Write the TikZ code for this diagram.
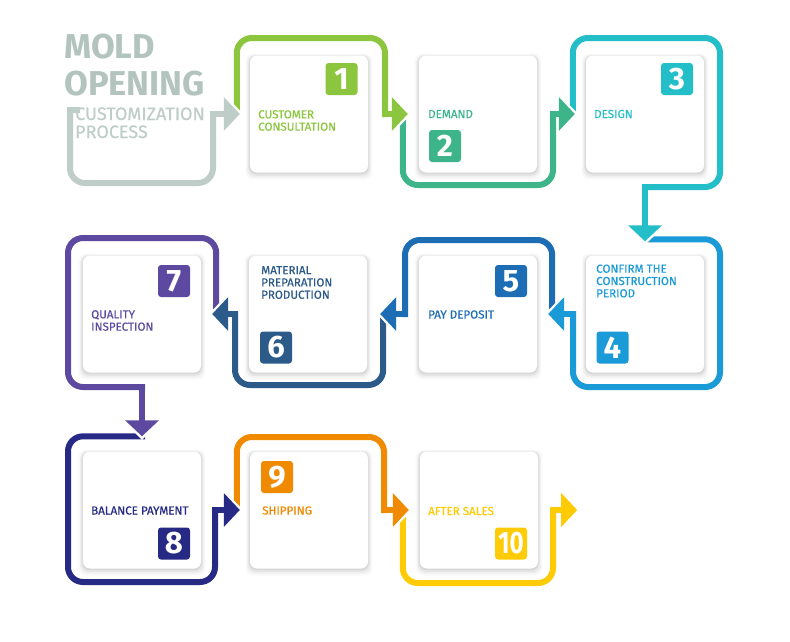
\documentclass[tikz,border=0pt]{standalone}
\usepackage{fontspec}
\setmainfont{Fira Sans}
\newfontfamily\medfont{Fira Sans}[FakeBold=0.45]
\usetikzlibrary{arrows.meta,shadows}
\definecolor{cZero}{HTML}{BFCDC9}
\definecolor{cTitle}{HTML}{B3C4BF}
\definecolor{cOne}{HTML}{8CC63F}
\definecolor{cTwo}{HTML}{3DB48A}
\definecolor{cThree}{HTML}{23BEC7}
\definecolor{cFour}{HTML}{1A9AD6}
\definecolor{cFive}{HTML}{1C6DB4}
\definecolor{cSix}{HTML}{2C5A89}
\definecolor{cSeven}{HTML}{5D4AA0}
\definecolor{cEight}{HTML}{262A84}
\definecolor{cNine}{HTML}{F08A00}
\definecolor{cTen}{HTML}{FFCB05}
\tikzset{
  card/.style  = {fill=white, rounded corners=7pt, minimum width=118pt,
                  minimum height=117pt, inner sep=0pt,
                  drop shadow={shadow scale=1.075, shadow xshift=0pt, shadow yshift=-2.5pt,
                               fill=black, opacity=.025},
                  drop shadow={shadow scale=1.05, shadow xshift=0pt, shadow yshift=-2pt,
                               fill=black, opacity=.035},
                  drop shadow={shadow scale=1.03, shadow xshift=0pt, shadow yshift=-1.5pt,
                               fill=black, opacity=.045},
                  drop shadow={shadow scale=1.012, shadow xshift=0pt, shadow yshift=-1pt,
                               fill=black, opacity=.06}},
  badge/.style = {fill=#1, rounded corners=3pt, minimum size=32pt, inner sep=0pt,
                  text=white, font=\fontsize{31}{31}\selectfont\bfseries},
  lbl/.style   = {text=#1, anchor=west, align=left, inner sep=0pt,
                  font=\fontsize{11.6}{12.3}\selectfont\medfont},
  lp/.style    = {draw=#1, line width=6pt, rounded corners=15pt, line cap=rect},
  hl/.style    = {draw=white, line width=6pt, -{Triangle[width=42pt,length=21pt]}},
  ar/.style    = {draw=#1, line width=6pt, -{Triangle[width=33pt,length=16pt]}},
  ttl/.style   = {text=cTitle, anchor=base west, inner sep=0pt,
                  font=\fontsize{34.5}{37}\selectfont\bfseries},
  sub/.style   = {text=cZero, anchor=base west, inner sep=0pt,
                  font=\fontsize{18}{18}\selectfont\medfont},
}

\begin{document}
\begin{tikzpicture}[x=1pt, y=-1pt]
  \useasboundingbox (0,0) rectangle (790,641);
  \fill[white] (0,0) rectangle (790,641);

  % cards
  \node[card] (st1)  at (309,114) {};
  \node[card] (st2)  at (478,114) {};
  \node[card] (st3)  at (645,114) {};
  \node[card] (st4)  at (645,314) {};
  \node[card] (st5)  at (478,314) {};
  \node[card] (st6)  at (308,314) {};
  \node[card] (st7)  at (142,314) {};
  \node[card] (st8)  at (142,510) {};
  \node[card] (st9)  at (309,510) {};
  \node[card] (st10) at (479,510) {};

  % number badges
  \node[badge=cOne]   (n1)  at (341.5,79)  {1};
  \node[badge=cTwo]   (n2)  at (445,146)   {2};
  \node[badge=cThree] (n3)  at (677,79)    {3};
  \node[badge=cFour]  (n4)  at (612.5,347.5) {4};
  \node[badge=cFive]  (n5)  at (511,281)   {5};
  \node[badge=cSix]   (n6)  at (276,347.5) {6};
  \node[badge=cSeven] (n7)  at (174,281)   {7};
  \node[badge=cEight] (n8)  at (174,543.5) {8};
  \node[badge=cNine]  (n9)  at (277,477)   {9};
  \node[badge=cTen]   (n10) at (511,543.5) {\scalebox{0.78}[1]{10}};

  % step labels
  \node[lbl=cOne]   (t1)  at (258,120.5) {CUSTOMER\\CONSULTATION};
  \node[lbl=cTwo]   (t2)  at (428,114)   {DEMAND};
  \node[lbl=cThree] (t3)  at (594,114)   {DESIGN};
  \node[lbl=cFour]  (t4)  at (596,281)   {CONFIRM THE\\CONSTRUCTION\\PERIOD};
  \node[lbl=cFive]  (t5)  at (428,314.5) {PAY DEPOSIT};
  \node[lbl=cSix]   (t6)  at (261,282.5) {MATERIAL\\PREPARATION\\PRODUCTION};
  \node[lbl=cSeven] (t7)  at (91,320.5)  {QUALITY\\INSPECTION};
  \node[lbl=cEight] (t8)  at (91,510.5)  {BALANCE PAYMENT};
  \node[lbl=cNine]  (t9)  at (262,510.5) {SHIPPING};
  \node[lbl=cTen]   (t10) at (428,511)   {AFTER SALES};

  % loops, last one first so every arrow head sits on the next line
  \draw[lp=cTen] ([xshift=-17pt]st10.west) |- (553,583) -- (553,510);
  \draw[ar=cTen] (553,510) -- ([xshift=39pt]st10.east);

  \draw[lp=cNine] ([xshift=-13pt]st9.west) |- (384,437) -- (384,510);
  \draw[hl] (384,510) -- ([xshift=-7.5pt]st10.west);
  \draw[ar=cNine] (384,510) -- ([xshift=-11pt]st10.west);

  \draw[lp=cEight] ([yshift=15pt]st8.north) -| (68,582) -| (215,510);
  \draw[hl] (215,510) -- ([xshift=-6.5pt]st9.west);
  \draw[ar=cEight] (215,510) -- ([xshift=-10pt]st9.west);

  \draw[lp=cSeven] ([xshift=15pt]st7.east) |- (68,238) |- (142,387);
  \draw[hl] (142,387) -- ([yshift=11.5pt]st8.north);
  \draw[ar=cSeven] (142,387) -- ([yshift=15pt]st8.north);

  \draw[lp=cSix] ([xshift=16pt]st6.east) |- (235,385) -- (235,314);
  \draw[hl] (235,314) -- ([xshift=7.5pt]st7.east);
  \draw[ar=cSix] (235,314) -- ([xshift=11pt]st7.east);

  \draw[lp=cFive] ([xshift=15pt]st5.east) |- (405,240) -- (405,314);
  \draw[hl] (405,314) -- ([xshift=9.5pt]st6.east);
  \draw[ar=cFive] (405,314) -- ([xshift=13pt]st6.east);

  \draw[lp=cFour] ([yshift=16pt]st4.north) -| (720,387) -| (573,314);
  \draw[hl] (573,314) -- ([xshift=7.5pt]st5.east);
  \draw[ar=cFour] (573,314) -- ([xshift=11pt]st5.east);

  \draw[lp=cThree] ([xshift=-13pt]st3.west) |- (720,38) |- (645,187);
  \draw[hl] (645,187) -- ([yshift=10.5pt]st4.north);
  \draw[ar=cThree] (645,187) -- ([yshift=14pt]st4.north);

  \draw[lp=cTwo] ([xshift=-16pt]st2.west) |- (553,185) -- (553,114);
  \draw[hl] (553,114) -- ([xshift=-7.5pt]st3.west);
  \draw[ar=cTwo] (553,114) -- ([xshift=-11pt]st3.west);

  \draw[lp=cOne] ([xshift=-13pt]st1.west) |- (385,38) -- (385,114);
  \draw[hl] (385,114) -- ([xshift=-7.5pt]st2.west);
  \draw[ar=cOne] (385,114) -- ([xshift=-11pt]st2.west);

  \draw[lp=cZero] (77,110) -- (70,110);
  \draw[lp=cZero] (70,110) |- (213,183) -- (213,114);
  \draw[hl] (213,114) -- ([xshift=-6.5pt]st1.west);
  \draw[ar=cZero] (213,114) -- ([xshift=-10pt]st1.west);

  % heading
  \node[ttl] (ttlA) at (64,58)  {MOLD};
  \node[ttl] (ttlB) at (64,95)  {OPENING};
  \node[sub] (subA) at (75,120) {CUSTOMIZATION};
  \node[sub] (subB) at (75,138) {PROCESS};
\end{tikzpicture}
\end{document}
